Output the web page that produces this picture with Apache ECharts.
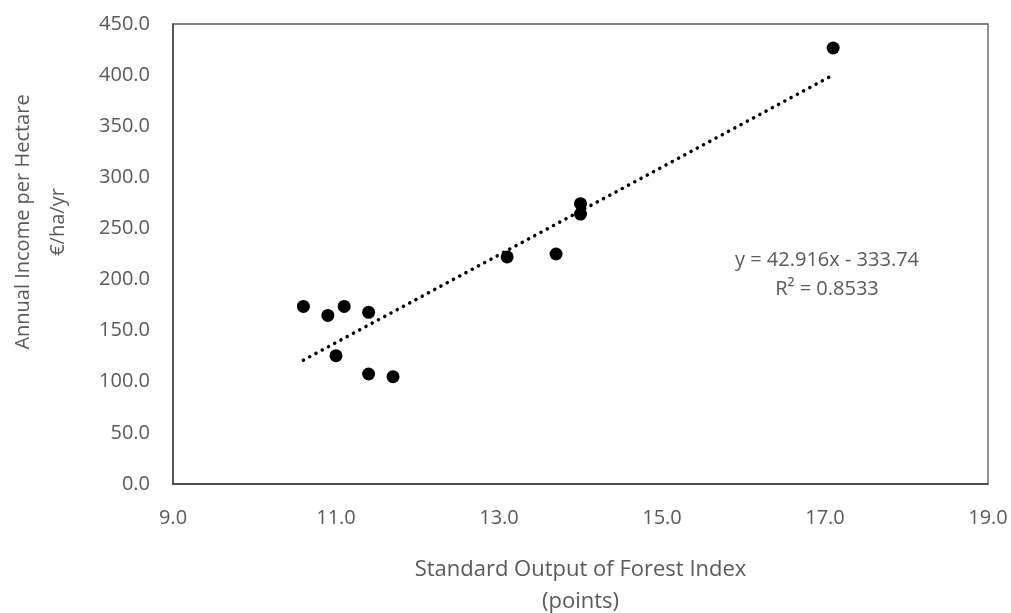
<!DOCTYPE html>
<html>
<head>
<meta charset="utf-8">
<script src="https://cdn.jsdelivr.net/npm/echarts@6/dist/echarts.min.js"></script>
<style>
    html, body { margin: 0; padding: 0; background: #fff; }
    #chart { width: 1011px; height: 613px; }
</style>
</head>
<body>
<div id="chart"></div>
<script>
// standard output index (points) vs annual income (€/ha/yr)
var sfoIndex = [10.6, 10.9, 11.1, 11.4, 11.0, 11.4, 11.7, 13.1, 13.7, 14.0, 14.0, 17.1];
var incomeHa = [173.7, 164.9, 173.7, 167.9, 125.5, 107.6, 105.0, 222.1, 225.0, 274.2, 264.1, 426.5];
var trendCoef = [42.916, -333.74];   // slope, intercept
var trendRange = [10.6, 17.1];
var eqLabel = 'y = 42.916x - 333.74';
var r2Label = 'R² = 0.8533';

(function () {
    var myChart = echarts.init(document.getElementById('chart'));
    var font = "'Open Sans', 'Liberation Sans', sans-serif";
    var txt = '#595959';

    var points = sfoIndex.map(function (x, i) { return [x, incomeHa[i]]; });
    var trend = trendRange.map(function (x) { return [x, trendCoef[0] * x + trendCoef[1]]; });

    var option = {
        backgroundColor: '#fff',
        animation: false,
        textStyle: { fontFamily: font },
        grid: {
            left: 173, right: 23, top: 24, bottom: 129,
            outerBoundsMode: 'none',
            containLabel: false,
            show: true,
            borderColor: '#595959',
            borderWidth: 1.3
        },
        xAxis: {
            type: 'value',
            min: 9, max: 19, interval: 2,
            name: 'Standard Output of Forest Index\n(points)',
            nameLocation: 'middle',
            nameGap: 70,
            nameTextStyle: { color: txt, fontSize: 22, lineHeight: 32, fontFamily: font },
            axisLine: { show: true, lineStyle: { color: '#404040', width: 1.5 } },
            axisTick: { show: false },
            splitLine: { show: false },
            axisLabel: {
                color: txt, fontSize: 20, margin: 24, fontFamily: font,
                formatter: function (v) { return v.toFixed(1); }
            }
        },
        yAxis: {
            type: 'value',
            min: 0, max: 450, interval: 50,
            name: 'Annual Income per Hectare\n€/ha/yr',
            nameLocation: 'middle',
            nameGap: 97,
            nameTextStyle: { color: txt, fontSize: 20, lineHeight: 35, fontFamily: font, padding: [0, 0, 0, 64] },
            axisLine: { show: true, lineStyle: { color: '#404040', width: 1.5 } },
            axisTick: { show: false },
            splitLine: { show: false },
            axisLabel: {
                color: txt, fontSize: 20, margin: 23, fontFamily: font,
                formatter: function (v) { return v.toFixed(1); }
            }
        },
        graphic: [
            {
                type: 'text', x: 827, y: 260,
                style: { text: eqLabel, fill: txt, font: '20px ' + font, textAlign: 'center', textVerticalAlign: 'middle' }
            },
            {
                type: 'text', x: 827, y: 289,
                style: { text: r2Label, fill: txt, font: '20px ' + font, textAlign: 'center', textVerticalAlign: 'middle' }
            }
        ],
        series: [
            {
                type: 'line',
                data: trend,
                symbol: 'none',
                silent: true,
                lineStyle: { color: '#000', width: 3.5, type: [0.1, 7], cap: 'round' },
                z: 2
            },
            {
                type: 'scatter',
                data: points,
                symbolSize: 13,
                itemStyle: { color: '#000', opacity: 1 },
                z: 3
            }
        ]
    };
    myChart.setOption(option);
})();
</script>
</body>
</html>
